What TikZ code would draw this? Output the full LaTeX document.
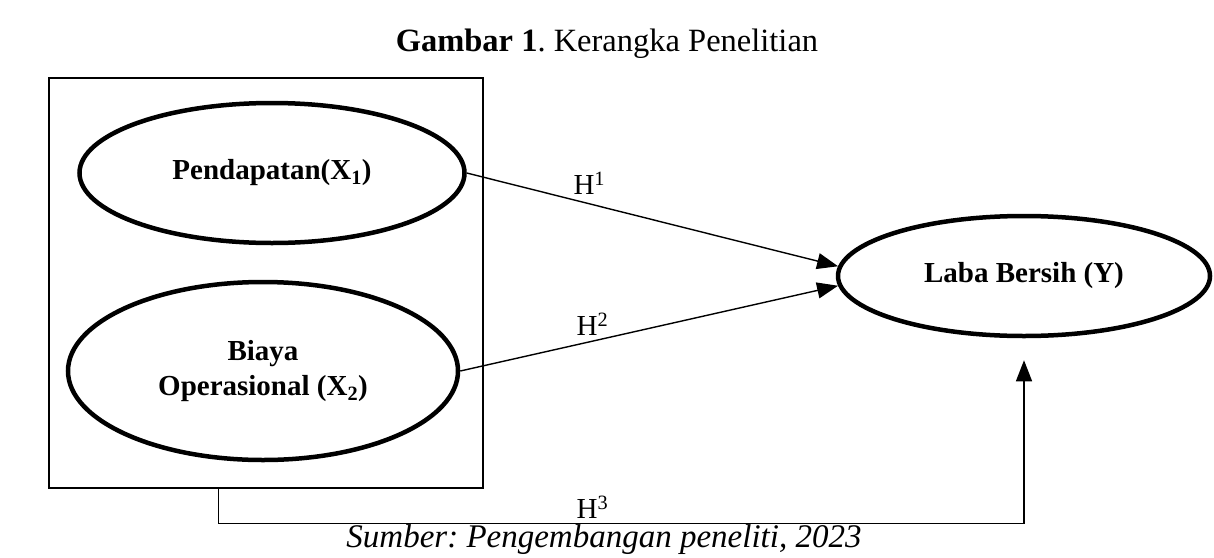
\documentclass[tikz,border=0pt]{standalone}
\usepackage{fontspec}
\setmainfont{Liberation Serif}
\usetikzlibrary{shapes.geometric,arrows.meta,calc}
\frenchspacing
\tikzset{
  varnode/.style={ellipse,draw,line width=4.5pt,align=center,font=\fontsize{29}{35}\selectfont\bfseries,inner sep=0pt},
  arr/.style={line width=1.4pt,-{Triangle[length=21pt,width=16pt]}},
  hlabel/.style={font=\fontsize{29}{35}\selectfont}
}
\begin{document}
\begin{tikzpicture}[x=1pt,y=-1pt]
      \useasboundingbox (0,0) rectangle (1214,557);

      % Title
      \node[font=\fontsize{32.5}{38}\selectfont] (title) at (607,44) {\textbf{Gambar 1}. Kerangka Penelitian};

      % Box and variables
      \node[draw,line width=2.6pt,minimum width=434pt,minimum height=410pt] (box) at (266,283) {};
      \node[varnode,minimum width=385pt,minimum height=140pt] (pend) at (272,173) {Pendapatan(X\textsubscript{1})};
      \node[varnode,minimum width=390pt,minimum height=178pt] (biaya) at (263,371) {Biaya\\Operasional (X\textsubscript{2})};
      \node[varnode,minimum width=372pt,minimum height=120pt] (laba) at (1024,276) {Laba Bersih (Y)};

      % Hypotheses
      \draw[arr] (pend.east) -- (laba.177.5) node[hlabel,pos=0.33,above=5pt] {H\textsuperscript{1}};
      \draw[arr] (biaya.east) -- (laba.183.5) node[hlabel,pos=0.35,above=2pt] {H\textsuperscript{2}};
      \coordinate (h3a) at ($(box.south west)+(171,0)$);
      \draw[arr] (h3a) -- ++(0,34) -| node[hlabel,pos=0.232,above=1pt] {H\textsuperscript{3}} ([yshift=-22pt]laba.south);

      % Source
      \node[font=\fontsize{33}{38}\selectfont\itshape] (src) at (604,540) {Sumber: Pengembangan peneliti, 2023};
    \end{tikzpicture}
\end{document}
